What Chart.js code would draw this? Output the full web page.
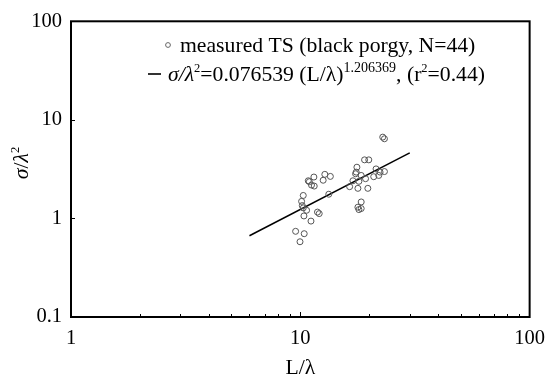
<!DOCTYPE html>
<html><head><meta charset="utf-8">
<script src="https://cdn.jsdelivr.net/npm/chart.js@4"></script>
<style>html,body{margin:0;padding:0;background:#fff}</style>
</head><body>
<canvas id="c" width="554" height="379"></canvas>
<script>
// L/lambda of each measured fish
const lengthRatio = [
  10.83, 11.46, 12.79, 13.52, 12.58, 11.19, 11.50, 10.30, 10.13, 10.20,
  10.30, 10.65, 10.37, 11.88, 12.09, 11.13, 13.31, 9.54, 10.40, 9.97,
  10.95, 22.88, 23.27, 19.06, 19.89, 17.65, 17.53, 17.42, 21.39, 22.27,
  23.27, 21.98, 18.43, 18.01, 19.25, 16.41, 17.83, 19.70, 18.43, 17.83,
  18.43, 18.01, 16.96, 20.90
];
// sigma/lambda^2 of each measured fish
const sigmaRatio = [
  2.41, 2.63, 2.80, 2.67, 2.44, 2.18, 2.13, 1.71, 1.49, 1.35,
  1.28, 1.21, 1.06, 1.16, 1.12, 0.94, 1.76, 0.74, 0.70, 0.58,
  2.36, 6.68, 6.43, 3.93, 3.93, 3.31, 2.95, 2.84, 3.18, 2.95,
  2.99, 2.73, 2.73, 2.38, 2.53, 2.10, 2.02, 2.02, 1.47, 1.30,
  1.26, 1.23, 2.41, 2.65
];
// fitted regression line end points
const fitLineX = [6.0, 30.0];
const fitLineY = [0.667, 4.63];
const xTickValues = [1, 10, 100];
const yTickValues = [0.1, 1, 10, 100];
const xMinorTicks = [2,3,4,5,6,7,8,9,20,30,40,50,60,70,80,90];
const yMajorInner = [1, 10];

const SERIF = '"Liberation Serif", "Times New Roman", serif';

const scatterData = lengthRatio.map((x, i) => ({x, y: sigmaRatio[i]}));
const lineData = fitLineX.map((x, i) => ({x, y: fitLineY[i]}));

function drawRich(ctx, x, y, parts) {
  let cx = x;
  parts.forEach(p => {
    ctx.font = p.font;
    ctx.fillText(p.t, cx, y + (p.dy || 0));
    cx += ctx.measureText(p.t).width;
  });
  return cx;
}

const decor = {
  id: 'decor',
  afterDraw(chart) {
    const ctx = chart.ctx, a = chart.chartArea;
    const xs = chart.scales.x, ys = chart.scales.y;
    ctx.save();
    ctx.strokeStyle = '#000';
    ctx.fillStyle = '#000';
    // frame
    ctx.lineWidth = 2;
    ctx.strokeRect(a.left, a.top, a.right - a.left, a.bottom - a.top);
    // ticks
    ctx.lineWidth = 1;
    ctx.beginPath();
    xMinorTicks.forEach(v => {
      const px = Math.round(xs.getPixelForValue(v)) + 0.5;
      ctx.moveTo(px, a.bottom); ctx.lineTo(px, a.bottom - 3);
    });
    const p10 = Math.round(xs.getPixelForValue(10)) + 0.5;
    ctx.moveTo(p10, a.bottom); ctx.lineTo(p10, a.bottom - 5);
    yMajorInner.forEach(v => {
      const py = Math.round(ys.getPixelForValue(v)) + 0.5;
      ctx.moveTo(a.left, py); ctx.lineTo(a.left + 4, py);
    });
    ctx.stroke();

    // axis titles
    ctx.textBaseline = 'alphabetic';
    ctx.textAlign = 'left';
    const big = '21.7px ' + SERIF, bigI = 'italic 21.7px ' + SERIF, sup = '14px ' + SERIF, sup2 = '12.5px ' + SERIF;
    // x title
    ctx.font = big;
    const xt = 'L/λ';
    const xw = ctx.measureText(xt).width;
    ctx.fillText(xt, (a.left + a.right) / 2 - xw / 2, 374);
    // y title
    ctx.save();
    ctx.translate(28, 163);
    ctx.rotate(-Math.PI / 2);
    const yParts = [{t:'σ', font: bigI}, {t:'/', font: big}, {t:'λ', font: bigI}, {t:'2', font: sup2, dy: -9}];
    let w = 0;
    yParts.forEach(p => { ctx.font = p.font; w += ctx.measureText(p.t).width; });
    drawRich(ctx, -w / 2, 0, yParts);
    ctx.restore();

    // legend
    ctx.strokeStyle = '#666';
    ctx.lineWidth = 1;
    ctx.beginPath();
    ctx.arc(168, 45, 2.4, 0, Math.PI * 2);
    ctx.stroke();
    ctx.font = big;
    ctx.fillStyle = '#000';
    ctx.fillText('measured TS (black porgy, N=44)', 180, 52);

    ctx.strokeStyle = '#000';
    ctx.lineWidth = 1.6;
    ctx.beginPath();
    ctx.moveTo(148, 74); ctx.lineTo(161, 74);
    ctx.stroke();
    drawRich(ctx, 168, 81, [
      {t:'σ', font: bigI}, {t:'/', font: bigI}, {t:'λ', font: bigI},
      {t:'2', font: sup2, dy: -9},
      {t:'=0.076539 (L/λ)', font: big},
      {t:'1.206369', font: sup, dy: -9},
      {t:', (r', font: big},
      {t:'2', font: sup2, dy: -9},
      {t:'=0.44)', font: big}
    ]);
    ctx.restore();
  }
};

new Chart(document.getElementById('c'), {
  type: 'scatter',
  data: {
    datasets: [
      {
        label: 'measured TS (black porgy, N=44)',
        data: scatterData,
        showLine: false,
        pointStyle: 'circle',
        pointRadius: 3,
        pointBorderWidth: 1,
        pointBorderColor: '#555',
        pointBackgroundColor: 'rgba(0,0,0,0)',
        pointHoverRadius: 3
      },
      {
        label: 'fit',
        data: lineData,
        showLine: true,
        borderColor: '#000',
        borderWidth: 1.5,
        pointRadius: 0,
        fill: false
      }
    ]
  },
  options: {
    responsive: false,
    animation: false,
    devicePixelRatio: 1,
    layout: {padding: {top: 13, right: 21, left: 0, bottom: 0}},
    plugins: {legend: {display: false}, tooltip: {enabled: false}},
    scales: {
      x: {
        type: 'logarithmic', min: 1, max: 100,
        grid: {display: false, drawTicks: false},
        border: {display: false},
        afterBuildTicks: s => { s.ticks = xTickValues.map(v => ({value: v})); },
        afterFit: s => { s.height = 62; },
        ticks: {
          autoSkip: false, maxRotation: 0, padding: 9, color: '#000',
          font: {family: SERIF, size: 20.5},
          callback: v => String(v)
        }
      },
      y: {
        type: 'logarithmic', min: 0.1, max: 100,
        grid: {display: false, drawTicks: false},
        border: {display: false},
        afterBuildTicks: s => { s.ticks = yTickValues.map(v => ({value: v})); },
        afterFit: s => { s.width = 71; },
        ticks: {
          autoSkip: false, padding: 9, color: '#000',
          font: {family: SERIF, size: 20.5},
          callback: v => String(v)
        }
      }
    }
  },
  plugins: [decor]
});
</script>
</body></html>
